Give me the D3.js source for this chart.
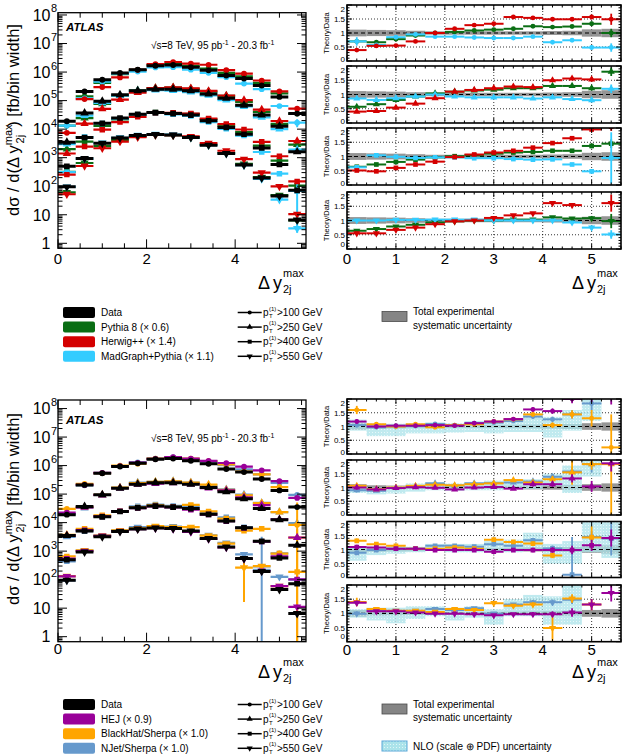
<!DOCTYPE html>
<meta charset="utf-8">
<head>
<title>ATLAS dijet rapidity separation</title>
<script src="https://d3js.org/d3.v7.min.js"></script>
<style>
body { margin: 0; background: #fff; }
text { font-family: "Liberation Sans", Arial, sans-serif; fill: #000; }
</style>
</head>
<body>
<script>

// bins in delta y (max) of the two jets
var binEdges = [0, 0.4, 0.8, 1.2, 1.6, 2.0, 2.4, 2.8, 3.2, 3.6, 4.0, 4.4, 4.8, 5.2, 5.6];
var binCenters = [0.2, 0.6, 1.0, 1.4, 1.8, 2.2, 2.6, 3.0, 3.4, 3.8, 4.2, 4.6, 5.0, 5.4];

// measured cross sections [fb/bin width], one array per leading-jet pT cut
var data100 = [1.9e4, 2.1e5, 5.4e5, 9.3e5, 1.2e6, 1.66e6, 1.76e6, 1.48e6, 1.15e6, 7.6e5, 5.9e5, 3.4e5, 1.35e5, 3.5e4];
var data250 = [3.5e3, 3.7e4, 9.5e4, 1.6e5, 2.2e5, 2.5e5, 2.5e5, 2.2e5, 1.7e5, 1.2e5, 6.9e4, 3.1e4, 1.26e4, 1.6e3];
var data400 = [500, 5.1e3, 1.6e4, 2.45e4, 3.3e4, 3.8e4, 3.5e4, 3.1e4, 1.95e4, 1.15e4, 6.6e3, 2.2e3, 575, 72];
var data550 = [95, 930, 3.2e3, 4.9e3, 6.0e3, 6.5e3, 6.2e3, 5.1e3, 2.75e3, 1.4e3, 550, 195, 45, 6.5];
var dataSets = [data100, data250, data400, data550];
var cutLabels = [">100 GeV", ">250 GeV", ">400 GeV", ">550 GeV"];

// theory/data ratios, one row per pT cut (100, 250, 400, 550)
var pythiaRatio = [
  [0.70, 0.67, 0.78, 0.91, 1.00, 1.04, 1.09, 1.12, 1.15, 1.24, 1.21, 1.23, 1.33, 1.00],
  [0.57, 0.66, 0.81, 0.93, 1.04, 1.10, 1.14, 1.17, 1.22, 1.22, 1.30, 1.30, 1.22, 1.80],
  [0.64, 0.72, 0.81, 0.89, 0.97, 1.01, 1.04, 1.10, 1.14, 1.16, 1.20, 1.20, 1.37, 1.45],
  [0.64, 0.70, 0.79, 0.85, 0.93, 0.97, 1.00, 1.00, 1.03, 1.03, 1.11, 1.07, 1.08, 0.98]];
var herwigRatio = [
  [0.39, 0.54, 0.55, 0.70, 1.00, 1.15, 1.28, 1.33, 1.57, 1.54, 1.49, 1.49, 1.57, 1.49],
  [0.40, 0.42, 0.54, 0.68, 0.87, 1.10, 1.16, 1.22, 1.28, 1.26, 1.50, 1.56, 1.53, 2.40],
  [0.51, 0.48, 0.60, 0.72, 0.82, 0.98, 1.07, 1.14, 1.20, 1.31, 1.47, 1.64, 1.95, 2.05],
  [0.55, 0.55, 0.67, 0.75, 0.87, 0.97, 1.00, 1.09, 1.18, 1.25, 1.61, 1.54, 2.20, 1.61]];
var madgraphRatio = [
  [0.70, 0.57, 0.85, 0.95, 0.87, 0.87, 0.84, 0.82, 0.82, 0.87, 0.67, 0.74, 0.48, 0.48],
  [0.86, 0.81, 0.87, 0.93, 1.00, 0.93, 0.90, 0.90, 0.90, 0.86, 0.90, 0.84, 0.80, 1.20],
  [0.62, 1.04, 0.99, 0.95, 0.97, 0.97, 0.94, 0.94, 0.91, 0.89, 0.90, 0.72, 0.48, 0.95],
  [1.00, 1.00, 1.02, 1.02, 1.03, 1.03, 1.03, 1.00, 1.00, 1.00, 1.00, 0.93, 0.75, 0.51]];

var hejRatio = [
  [1.18, 1.00, 1.03, 1.03, 1.05, 1.03, 1.12, 1.18, 1.27, 1.62, 1.56, 2.00, 2.10, 2.10],
  [1.00, 0.93, 0.98, 1.01, 0.99, 0.93, 1.00, 1.02, 0.96, 1.12, 1.12, 1.33, 1.04, 1.88],
  [1.09, 1.07, 1.03, 1.03, 0.98, 0.98, 0.98, 0.92, 0.98, 0.98, 0.98, 0.98, 1.15, 1.41],
  [1.37, 1.07, 1.07, 1.03, 0.99, 0.99, 0.97, 0.93, 0.97, 0.97, 0.97, 1.03, 1.31, 1.72]];
var blackhatRatio = [
  [1.60, 1.08, 1.00, 1.08, 0.97, 1.05, 1.08, 1.18, 1.26, 1.44, 1.05, 1.44, 1.30, 0.24],
  [1.06, 0.94, 1.00, 1.06, 1.10, 1.08, 1.12, 1.15, 1.27, 1.18, 1.30, 1.55, 1.85, 1.85],
  [1.31, 1.19, 1.13, 1.03, 1.03, 1.07, 1.03, 1.35, 1.27, 1.21, 0.79, 2.75, 1.43, 2.60],
  [1.40, 1.15, 1.09, 1.09, 1.05, 1.15, 1.12, 1.36, 1.27, 1.31, 0.48, 1.52, 1.31, null]];
var njetRatio = [
  [1.05, 0.97, 1.00, 1.02, 1.09, 1.05, 1.12, 1.14, 1.20, 1.36, 1.26, 1.44, 1.84, 2.70],
  [0.90, 0.88, 0.98, 1.04, 1.15, 1.07, 1.15, 1.16, 1.18, 1.22, 1.39, 1.58, 1.85, 6.00],
  [0.88, 0.98, 1.03, 1.03, 1.13, 1.13, 1.10, 1.19, 1.13, 1.33, 1.04, 0.10, 1.45, 1.39],
  [0.99, 1.12, 1.09, 1.09, 1.15, 1.12, 1.18, 0.99, 1.31, 1.39, 1.39, 1.48, 2.80, null]];

// statistical errors on the ratios (absolute), with a few large ones listed separately
var topErr = [0.05, 0.02, 0.02, 0.02, 0.02, 0.02, 0.02, 0.02, 0.02, 0.03, 0.03, 0.04, 0.08, 0.15];
var topErrBig = [["madgraph", 0, 0, 0.15], ["madgraph", 2, 13, 0.9], ["herwig", 0, 13, 0.2],
                 ["herwig", 3, 13, 0.3], ["pythia", 3, 13, 0.25], ["pythia", 1, 13, 0.15]];
var botErr = [0.08, 0.04, 0.03, 0.03, 0.03, 0.03, 0.04, 0.05, 0.05, 0.08, 0.1, 0.15, 0.2, 0.3];
var botErrBig = [["blackhat", 0, 0, 0.15], ["blackhat", 0, 12, 0.3], ["blackhat", 0, 13, 1.2],
                 ["blackhat", 1, 11, 0.45], ["blackhat", 1, 13, 1.9], ["blackhat", 2, 12, 0.4],
                 ["blackhat", 3, 10, 0.45], ["blackhat", 3, 0, 0.15], ["njet", 2, 11, 1.35],
                 ["njet", 0, 12, 0.25], ["njet", 2, 13, 0.6], ["njet", 1, 12, 0.3]];

// total experimental systematic uncertainty (half width around 1)
var sysTop = [0.12, 0.11, 0.10, 0.08, 0.06, 0.06, 0.06, 0.06, 0.06, 0.06, 0.07, 0.08, 0.13, 0.15];
var sysBot = [0.12, 0.08, 0.07, 0.06, 0.05, 0.05, 0.05, 0.05, 0.06, 0.07, 0.08, 0.09, 0.12, 0.15];

// NLO (scale + PDF) band, low / high edges per pT cut
var nloLo = [
  [0.85, 0.65, 0.65, 0.75, 0.75, 0.78, 0.80, 0.75, 0.80, 0.80, 0.60, 0.85, 1.20, null],
  [0.80, 0.75, 0.78, 0.85, 0.90, 0.88, 0.90, 0.90, 0.95, 0.95, 1.05, 0.80, 1.40, null],
  [0.60, 0.80, 0.85, 0.90, 0.95, 0.90, 0.90, 0.95, 0.90, 1.00, 0.50, 0.50, 0.90, 0.70],
  [0.85, 0.75, 0.65, 0.80, 0.90, 0.75, 0.85, 0.60, 0.90, 0.90, 0.60, 0.60, null, null]];
var nloHi = [
  [1.25, 1.12, 1.10, 1.12, 1.15, 1.12, 1.20, 1.20, 1.30, 1.45, 1.35, 1.60, 2.00, null],
  [1.05, 1.00, 1.05, 1.15, 1.20, 1.15, 1.20, 1.25, 1.30, 1.30, 1.50, 1.80, 2.00, null],
  [1.10, 1.10, 1.15, 1.10, 1.20, 1.20, 1.20, 1.30, 1.35, 1.60, 1.20, 1.30, 2.00, 2.00],
  [1.15, 1.20, 1.20, 1.25, 1.25, 1.20, 1.25, 1.15, 1.50, 1.65, 1.60, 2.00, null, null]];

var W = 629, H = 755;
var svg = d3.select("body").append("svg").attr("width", W).attr("height", H);
var defs = svg.append("defs");

var pat = defs.append("pattern").attr("id", "nloHatch").attr("width", 3).attr("height", 3)
    .attr("patternUnits", "userSpaceOnUse");
pat.append("rect").attr("width", 3).attr("height", 3).attr("fill", "#abe3ea");
pat.append("rect").attr("width", 1).attr("height", 1).attr("fill", "#dff5f7");

var shapes = [d3.symbolCircle, d3.symbolTriangle, d3.symbolSquare, d3.symbolTriangle];

function marker(g, s, cx, cy, size, color) {
  g.append("path")
    .attr("d", d3.symbol().type(shapes[s]).size(s == 0 ? size * 0.85 : size)())
    .attr("transform", "translate(" + cx + "," + cy + ")" + (s == 3 ? " rotate(180)" : ""))
    .attr("fill", color);
}

function errFor(base, big, key, s, i) {
  for (var k = 0; k < big.length; k++)
    if (big[k][0] === key && big[k][1] === s && big[k][2] === i) return big[k][3];
  return base[i];
}

var topFig = {
  id: "top",
  main: {x0: 58, x1: 306, y0: 12.7, y1: 248.3, logMin: -0.175, logMax: 8.08},
  ratio: {x0: 347, x1: 621, panels: [[5, 61], [66, 123], [128, 185], [192, 249]]},
  mainLabelBase: 264, ratioLabelBase: 263.5, titleBase: 289,
  atlasY: 31, lumiY: 48.5, yTitleY: 120,
  err: topErr, errBig: topErrBig, sys: sysTop, nlo: false,
  models: [
    {key: "pythia", color: "#0a6e14", ratio: pythiaRatio},
    {key: "madgraph", color: "#33ccff", ratio: madgraphRatio},
    {key: "herwig", color: "#d40000", ratio: herwigRatio}]
};
var botFig = {
  id: "bot",
  main: {x0: 58, x1: 306, y0: 400, y1: 641.7, logMin: -0.176, logMax: 8.3},
  ratio: {x0: 347, x1: 621, panels: [[399, 454], [460, 515], [521.5, 577.5], [585, 641.7]]},
  mainLabelBase: 654, ratioLabelBase: 655, titleBase: 678,
  atlasY: 424, lumiY: 441.5, yTitleY: 509,
  err: botErr, errBig: botErrBig, sys: sysBot, nlo: true,
  models: [
    {key: "njet", color: "#6699cc", ratio: njetRatio},
    {key: "blackhat", color: "#ffa500", ratio: blackhatRatio},
    {key: "hej", color: "#990099", ratio: hejRatio}]
};

// "Δ y" with stacked "max" / "2j"
function xTitle(g, x, tb) {
  g.append("text").attr("x", x).attr("y", tb).style("font-size", "18px").text("Δ");
  g.append("text").attr("x", x + 15).attr("y", tb).style("font-size", "18px").text("y");
  g.append("text").attr("x", x + 25).attr("y", tb - 12).style("font-size", "11px").text("max");
  g.append("text").attr("x", x + 25).attr("y", tb + 4).style("font-size", "11px").text("2j");
}

function drawFigure(f) {
  var g = svg.append("g");
  var m = f.main;
  var x = d3.scaleLinear().domain([0, 5.6]).range([m.x0, m.x1]);
  var y = d3.scaleLog().domain([Math.pow(10, m.logMin), Math.pow(10, m.logMax)]).range([m.y1, m.y0]);

  defs.append("clipPath").attr("id", f.id + "main").append("rect")
    .attr("x", m.x0).attr("y", m.y0).attr("width", m.x1 - m.x0).attr("height", m.y1 - m.y0);
  var plot = g.append("g").attr("clip-path", "url(#" + f.id + "main)");

  // theory predictions in the main panel
  f.models.forEach(function(md) {
    dataSets.forEach(function(ds, s) {
      ds.forEach(function(v, i) {
        var r = md.ratio[s][i];
        if (r == null) return;
        var e = errFor(f.err, f.errBig, md.key, s, i);
        var yv = y(v * r);
        var ylo = r - e > 0 ? y(v * (r - e)) : m.y1 + 5;
        plot.append("line").attr("x1", x(binCenters[i])).attr("x2", x(binCenters[i]))
          .attr("y1", ylo).attr("y2", y(v * (r + e))).attr("stroke", md.color).attr("stroke-width", 2);
        plot.append("line").attr("x1", x(binEdges[i])).attr("x2", x(binEdges[i + 1]))
          .attr("y1", yv).attr("y2", yv).attr("stroke", md.color).attr("stroke-width", 2.2);
        marker(plot, s, x(binCenters[i]), yv, 30, md.color);
      });
    });
  });
  // data
  dataSets.forEach(function(ds, s) {
    ds.forEach(function(v, i) {
      plot.append("line").attr("x1", x(binEdges[i])).attr("x2", x(binEdges[i + 1]))
        .attr("y1", y(v)).attr("y2", y(v)).attr("stroke", "#000").attr("stroke-width", 3);
      marker(plot, s, x(binCenters[i]), y(v), 32, "#000");
    });
  });

  // frame and ticks
  var axg = g.append("g").attr("stroke", "#000").attr("stroke-width", 1);
  axg.append("rect").attr("x", m.x0).attr("y", m.y0).attr("width", m.x1 - m.x0)
    .attr("height", m.y1 - m.y0).attr("fill", "none").attr("stroke-width", 1.3);
  for (var ex = -1; ex <= 8; ex++) {
    for (var k = 1; k <= 9; k++) {
      var val = k * Math.pow(10, ex);
      if (val < y.domain()[0] || val > y.domain()[1]) continue;
      var len = k == 1 ? 9 : 4.5;
      axg.append("line").attr("x1", m.x0).attr("x2", m.x0 + len).attr("y1", y(val)).attr("y2", y(val));
      axg.append("line").attr("x1", m.x1).attr("x2", m.x1 - len).attr("y1", y(val)).attr("y2", y(val));
    }
  }
  d3.range(0, 5.6, 0.5).forEach(function(t) {
    var len = (Math.abs(t % 2) < 1e-6) ? 9 : 5;
    axg.append("line").attr("x1", x(t)).attr("x2", x(t)).attr("y1", m.y1).attr("y2", m.y1 - len);
    axg.append("line").attr("x1", x(t)).attr("x2", x(t)).attr("y1", m.y0).attr("y2", m.y0 + len);
  });
  // y labels
  d3.range(0, 9).forEach(function(ex) {
    var yy = y(Math.pow(10, ex));
    if (ex == 0) {
      g.append("text").attr("x", 50.5).attr("y", yy + 5.8).attr("text-anchor", "end")
        .style("font-size", "16px").text("1");
    } else {
      g.append("text").attr("x", 50.5).attr("y", yy + 5.8).attr("text-anchor", "end")
        .style("font-size", "16px").text("10");
      if (ex > 1)
        g.append("text").attr("x", 51).attr("y", yy - 2.5).style("font-size", "11px").text(ex);
    }
  });
  [0, 2, 4].forEach(function(t) {
    g.append("text").attr("x", x(t)).attr("y", f.mainLabelBase).attr("text-anchor", "middle")
      .style("font-size", "15px").text(t);
  });
  xTitle(g, 258, f.titleBase);

  // y title
  var yt = g.append("text").attr("transform", "translate(19," + f.yTitleY + ") rotate(-90)")
    .attr("text-anchor", "middle").style("font-size", "16.5px");
  yt.append("tspan").text("dσ / d(Δ y");
  yt.append("tspan").attr("dy", -7).style("font-size", "11px").text("max");
  yt.append("tspan").attr("dx", -19).attr("dy", 12).style("font-size", "11px").text("2j");
  yt.append("tspan").attr("dx", 8).attr("dy", -5).text(") [fb/bin width]");

  g.append("text").attr("x", 66).attr("y", f.atlasY).style("font-size", "11.5px")
    .style("font-weight", "bold").style("font-style", "italic").text("ATLAS");
  var lt = g.append("text").attr("x", 151).attr("y", f.lumiY).style("font-size", "10px");
  lt.append("tspan").text("√s=8 TeV, 95 pb");
  lt.append("tspan").attr("dy", -4).style("font-size", "7px").text("-1");
  lt.append("tspan").attr("dy", 4).text(" - 20.3 fb");
  lt.append("tspan").attr("dy", -4).style("font-size", "7px").text("-1");

  // ratio panels
  var rr = f.ratio;
  var xr = d3.scaleLinear().domain([0, 5.6]).range([rr.x0, rr.x1]);
  rr.panels.forEach(function(p, s) {
    var yr = d3.scaleLinear().domain([0, 2]).range([p[1], p[0]]);
    var cid = f.id + "r" + s;
    defs.append("clipPath").attr("id", cid).append("rect")
      .attr("x", rr.x0).attr("y", p[0]).attr("width", rr.x1 - rr.x0).attr("height", p[1] - p[0]);
    var pg = g.append("g").attr("clip-path", "url(#" + cid + ")");

    // dotted grid
    [1, 2, 3, 4, 5].forEach(function(t) {
      pg.append("line").attr("x1", xr(t)).attr("x2", xr(t)).attr("y1", p[0]).attr("y2", p[1])
        .attr("stroke", "#000").attr("stroke-width", 0.8).attr("stroke-dasharray", "1,2");
    });
    [0.5, 1.5].forEach(function(t) {
      pg.append("line").attr("x1", rr.x0).attr("x2", rr.x1).attr("y1", yr(t)).attr("y2", yr(t))
        .attr("stroke", "#000").attr("stroke-width", 0.8).attr("stroke-dasharray", "1,2");
    });
    // systematic band
    f.sys.forEach(function(h, i) {
      pg.append("rect").attr("x", xr(binEdges[i])).attr("width", xr(binEdges[i + 1]) - xr(binEdges[i]))
        .attr("y", yr(1 + h)).attr("height", yr(1 - h) - yr(1 + h))
        .attr("fill", "#8a8a8a").attr("opacity", 0.9);
    });
    if (f.nlo) {
      nloLo[s].forEach(function(lo, i) {
        var hi = nloHi[s][i];
        if (lo == null) return;
        pg.append("rect").attr("x", xr(binEdges[i])).attr("width", xr(binEdges[i + 1]) - xr(binEdges[i]))
          .attr("y", yr(hi)).attr("height", yr(lo) - yr(hi))
          .attr("fill", "url(#nloHatch)").attr("opacity", 0.75);
      });
    }
    pg.append("line").attr("x1", rr.x0).attr("x2", rr.x1).attr("y1", yr(1)).attr("y2", yr(1))
      .attr("stroke", "#000").attr("stroke-width", 1.2).attr("stroke-dasharray", "4,3");

    f.models.forEach(function(md) {
      md.ratio[s].forEach(function(r, i) {
        if (r == null) return;
        var e = errFor(f.err, f.errBig, md.key, s, i);
        pg.append("line").attr("x1", xr(binCenters[i])).attr("x2", xr(binCenters[i]))
          .attr("y1", yr(r - e)).attr("y2", yr(r + e)).attr("stroke", md.color).attr("stroke-width", 1.8);
        pg.append("line").attr("x1", xr(binEdges[i])).attr("x2", xr(binEdges[i + 1]))
          .attr("y1", yr(r)).attr("y2", yr(r)).attr("stroke", md.color).attr("stroke-width", 2);
        marker(pg, s, xr(binCenters[i]), yr(r), 22, md.color);
      });
    });

    var pa = g.append("g").attr("stroke", "#000").attr("stroke-width", 1);
    pa.append("rect").attr("x", rr.x0).attr("y", p[0]).attr("width", rr.x1 - rr.x0)
      .attr("height", p[1] - p[0]).attr("fill", "none").attr("stroke-width", 1.6);
    d3.range(0, 5.61, 0.2).forEach(function(t) {
      var major = Math.abs(t - Math.round(t)) < 1e-6;
      var len = major ? 5 : 2.5;
      pa.append("line").attr("x1", xr(t)).attr("x2", xr(t)).attr("y1", p[1]).attr("y2", p[1] - len);
      pa.append("line").attr("x1", xr(t)).attr("x2", xr(t)).attr("y1", p[0]).attr("y2", p[0] + len);
    });
    d3.range(0, 2.01, 0.1).forEach(function(t) {
      var major = Math.abs(t * 2 - Math.round(t * 2)) < 1e-6;
      var len = major ? 5 : 2.5;
      pa.append("line").attr("x1", rr.x0).attr("x2", rr.x0 + len).attr("y1", yr(t)).attr("y2", yr(t));
      pa.append("line").attr("x1", rr.x1).attr("x2", rr.x1 - len).attr("y1", yr(t)).attr("y2", yr(t));
    });
    // the 0 and 2 labels are nudged inwards so neighbouring panels don't collide
    var labShift = [s == 3 ? -2.5 : 0.5, 3, 3, 3, 6.5];
    ["0", "0.5", "1", "1.5", "2"].forEach(function(lab, k) {
      g.append("text").attr("x", rr.x0 - 2).attr("y", yr(k * 0.5) + labShift[k]).attr("text-anchor", "end")
        .style("font-size", "8px").text(lab);
    });
    g.append("text").attr("transform", "translate(329," + ((p[0] + p[1]) / 2) + ") rotate(-90)")
      .attr("text-anchor", "middle").style("font-size", "7.5px").text("Theory/Data");
  });
  [0, 1, 2, 3, 4, 5].forEach(function(t) {
    g.append("text").attr("x", xr(t)).attr("y", f.ratioLabelBase).attr("text-anchor", "middle")
      .style("font-size", "15px").text(t);
  });
  xTitle(g, 572, f.titleBase);
}

drawFigure(topFig);
drawFigure(botFig);

// legends
function ptLabel(x, yc, s) {
  var b = yc + 3.5;
  svg.append("line").attr("x1", 237.7).attr("x2", 261.7).attr("y1", yc).attr("y2", yc)
    .attr("stroke", "#000").attr("stroke-width", 1.5);
  marker(svg, s, 249.7, yc, 16, "#000");
  svg.append("text").attr("x", x).attr("y", b).style("font-size", "10px").text("p");
  svg.append("text").attr("x", x + 6).attr("y", b - 5.5).style("font-size", "6px").text("(1)");
  svg.append("text").attr("x", x + 6).attr("y", b + 2).style("font-size", "6px").text("T");
  svg.append("text").attr("x", x + 14).attr("y", b).style("font-size", "10px").text(cutLabels[s]);
}
function legendBlock(y0, entries) {
  entries.forEach(function(en, k) {
    var yc = y0 + k * 14.6;
    svg.append("rect").attr("x", 63).attr("y", yc - 5.5).attr("width", 32).attr("height", 11)
      .attr("rx", 2).attr("fill", en[1]);
    svg.append("text").attr("x", 101).attr("y", yc + 3.5).style("font-size", "10px").text(en[0]);
    ptLabel(263, yc, k);
  });
}
legendBlock(312.5, [["Data", "#000"], ["Pythia 8 (× 0.6)", "#0a6e14"],
                    ["Herwig++ (× 1.4)", "#d40000"], ["MadGraph+Pythia (× 1.1)", "#33ccff"]]);
legendBlock(704.5, [["Data", "#000"], ["HEJ (× 0.9)", "#990099"],
                    ["BlackHat/Sherpa (× 1.0)", "#ffa500"], ["NJet/Sherpa (× 1.0)", "#6699cc"]]);

function sysLegend(yc) {
  svg.append("rect").attr("x", 382).attr("y", yc - 5).attr("width", 25).attr("height", 10)
    .attr("fill", "#858585").attr("stroke", "#4a4a4a").attr("stroke-width", 0.8);
  svg.append("text").attr("x", 413).attr("y", yc - 1.5).style("font-size", "10px").text("Total experimental");
  svg.append("text").attr("x", 413).attr("y", yc + 12).style("font-size", "10px").text("systematic uncertainty");
}
sysLegend(316.5);
sysLegend(709);
svg.append("rect").attr("x", 382).attr("y", 741).attr("width", 25).attr("height", 10)
  .attr("fill", "url(#nloHatch)").attr("stroke", "#5aa8d8").attr("stroke-width", 1);
svg.append("text").attr("x", 413).attr("y", 749.5).style("font-size", "10px").text("NLO (scale ⊕ PDF) uncertainty");

</script>
</body>
